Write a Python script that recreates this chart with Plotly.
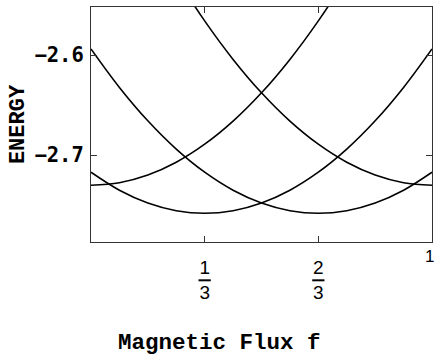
import plotly.graph_objects as go

# Magnetic flux sample points (f) and energy levels
flux = [0, 1/12, 2/12, 3/12, 4/12, 5/12, 6/12, 7/12, 8/12, 9/12, 10/12, 11/12, 1]
band_min_third = [-2.7169, -2.7349, -2.7477, -2.7554, -2.758, -2.7554, -2.7477,
                  -2.7349, -2.7169, -2.6938, -2.6655, -2.6321, -2.5936]
band_min_two_thirds = [-2.5936, -2.6321, -2.6655, -2.6938, -2.7169, -2.7349, -2.7477,
                       -2.7554, -2.758, -2.7554, -2.7477, -2.7349, -2.7169]
band_min_zero = [-2.73, -2.7274, -2.7197, -2.7069, -2.6889, -2.6658, -2.6375,
                 -2.6041, -2.5656, -2.5219, -2.4731, -2.4191, -2.36]
band_min_one = [-2.36, -2.4191, -2.4731, -2.5219, -2.5656, -2.6041, -2.6375,
                -2.6658, -2.6889, -2.7069, -2.7197, -2.7274, -2.73]

x_tickvals = [1/3, 2/3]
x_ticktext = ["1<br>3", "2<br>3"]
y_tickvals = [-2.6, -2.7]
y_ticktext = ["\u22122.6", "\u22122.7"]

fig = go.Figure()
for ys in (band_min_third, band_min_two_thirds, band_min_zero, band_min_one):
    fig.add_trace(go.Scatter(x=flux, y=ys, mode="lines",
                             line=dict(color="black", width=1.6, shape="spline"),
                             showlegend=False, hoverinfo="skip"))

axis_common = dict(showline=True, linecolor="#333", linewidth=1.2, mirror="allticks",
                   ticks="inside", ticklen=6, tickwidth=1, tickcolor="#333",
                   showgrid=False, zeroline=False)

fig.update_xaxes(range=[0, 1], tickvals=x_tickvals, ticktext=x_ticktext,
                 tickfont=dict(family="Liberation Sans", size=19, color="black"),
                 ticklabelstandoff=8, **axis_common)
fig.update_yaxes(range=[-2.7867, -2.5517], tickvals=y_tickvals, ticktext=y_ticktext,
                 tickfont=dict(family="DejaVu Sans Mono", size=20.5, color="black", weight="bold"),
                 ticklabelstandoff=2,
                 title=dict(text="ENERGY", standoff=3,
                            font=dict(family="Liberation Mono", size=22, color="black", weight="bold")),
                 **axis_common)

# fraction bars under the numerators of the x tick labels
for tv in x_tickvals:
    fig.add_shape(type="line", xref="x", yref="paper", x0=tv - 0.018, x1=tv + 0.018,
                  y0=-0.163, y1=-0.163, line=dict(color="black", width=2))

fig.add_annotation(x=1, xref="x", y=-0.061, yref="paper", text="1", showarrow=False,
                   xanchor="center", yanchor="middle", xshift=-3,
                   font=dict(family="Liberation Sans", size=17, color="black"))
fig.add_annotation(x=0.376, xref="paper", y=-0.43, yref="paper", text="Magnetic Flux f",
                   showarrow=False, xanchor="center", yanchor="middle",
                   font=dict(family="Liberation Mono", size=22.5, color="black", weight="bold"))

fig.update_layout(width=435, height=356, margin=dict(l=91, r=3, t=7, b=114),
                  plot_bgcolor="white", paper_bgcolor="white")

fig.write_html("out.html")
